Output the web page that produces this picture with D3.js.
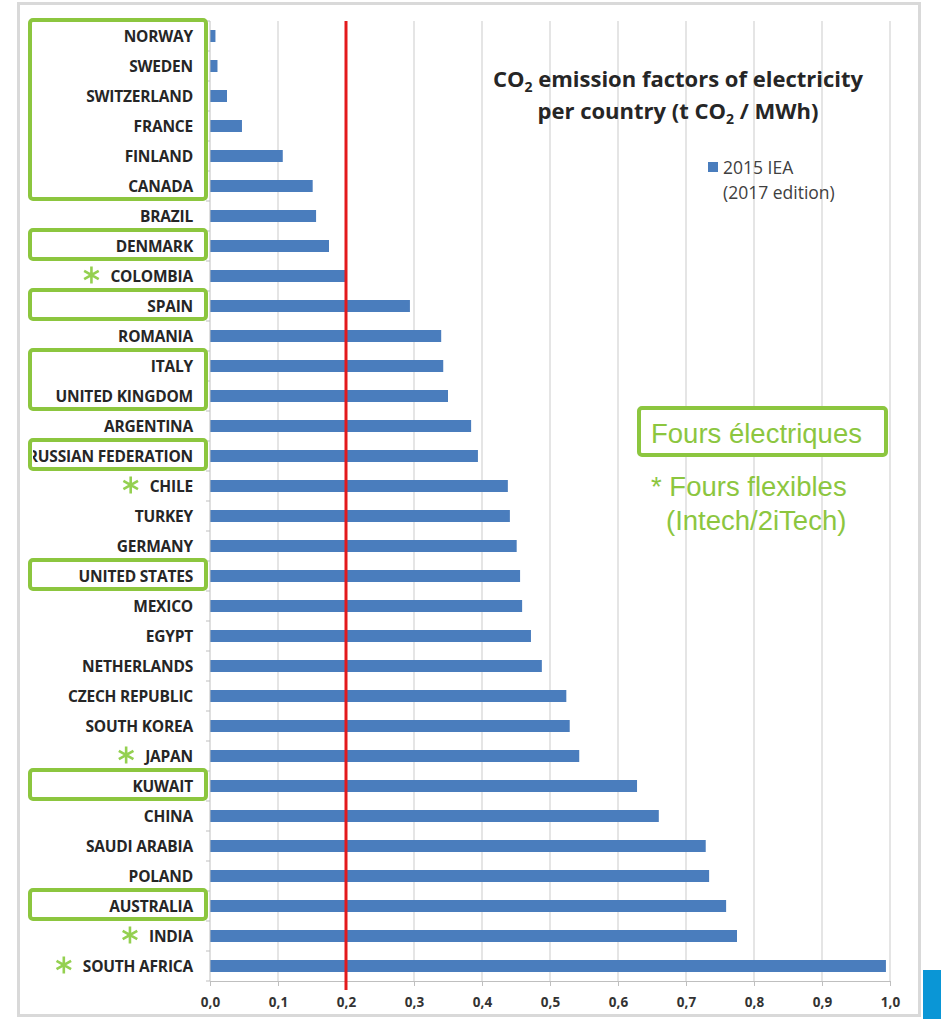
<!DOCTYPE html>
<html>
<head>
<meta charset="utf-8">
<script src="https://cdn.jsdelivr.net/npm/d3@7/dist/d3.min.js"></script>
<style>
  html, body { margin: 0; padding: 0; background: #fff; }
  svg { display: block; }
</style>
</head>
<body>
<svg id="chart" width="941" height="1019"></svg>
<script>
// CO2 emission factors of electricity per country (t CO2 / MWh), 2015 IEA (2017 edition)
const countries = [
  "NORWAY", "SWEDEN", "SWITZERLAND", "FRANCE", "FINLAND", "CANADA", "BRAZIL",
  "DENMARK", "COLOMBIA", "SPAIN", "ROMANIA", "ITALY", "UNITED KINGDOM",
  "ARGENTINA", "RUSSIAN FEDERATION", "CHILE", "TURKEY", "GERMANY",
  "UNITED STATES", "MEXICO", "EGYPT", "NETHERLANDS", "CZECH REPUBLIC",
  "SOUTH KOREA", "JAPAN", "KUWAIT", "CHINA", "SAUDI ARABIA", "POLAND",
  "AUSTRALIA", "INDIA", "SOUTH AFRICA"
];
const factors = [
  0.008, 0.011, 0.025, 0.047, 0.107, 0.151, 0.156,
  0.175, 0.199, 0.294, 0.340, 0.343, 0.350,
  0.384, 0.394, 0.438, 0.441, 0.451,
  0.456, 0.459, 0.472, 0.488, 0.524,
  0.529, 0.543, 0.628, 0.660, 0.729, 0.734,
  0.759, 0.775, 0.994
];
const xTicks = [0, 0.1, 0.2, 0.3, 0.4, 0.5, 0.6, 0.7, 0.8, 0.9, 1.0];
const threshold = 0.2;

// Countries with electric furnaces (framed in green), as runs of consecutive rows
const electricGroups = [
  ["NORWAY", "CANADA"], ["DENMARK", "DENMARK"], ["SPAIN", "SPAIN"],
  ["ITALY", "UNITED KINGDOM"], ["RUSSIAN FEDERATION", "RUSSIAN FEDERATION"],
  ["UNITED STATES", "UNITED STATES"], ["KUWAIT", "KUWAIT"], ["AUSTRALIA", "AUSTRALIA"]
];
// Countries with flexible furnaces (marked with an asterisk)
const flexible = ["COLOMBIA", "CHILE", "JAPAN", "INDIA", "SOUTH AFRICA"];

const legendLines = ["2015 IEA", "(2017 edition)"];
const noteBoxText = "Fours électriques";
const noteLines = ["* Fours flexibles", "(Intech/2iTech)"];

const data = countries.map((c, i) => ({ country: c, value: factors[i] }));

const svg = d3.select("#chart");
const green = "#8cc63f";
const starGreen = "#94d050";
const barColor = "#4a7dbd";

const x = d3.scaleLinear().domain([0, 1]).range([210, 890]);
const y = d3.scaleBand().domain(countries).range([21, 981])
  .paddingInner(0.6).paddingOuter(0.3);
const step = y.step();
const gap = (step - y.bandwidth()) / 2;

// Outer frame
svg.append("rect")
  .attr("x", 18.5).attr("y", 3.5).attr("width", 901).attr("height", 1012)
  .attr("fill", "none").attr("stroke", "#d9d9d9").attr("stroke-width", 3);

// Corner tab bottom right
svg.append("rect")
  .attr("x", 923).attr("y", 970).attr("width", 18).attr("height", 49)
  .attr("fill", "#0a96d6");

// Vertical gridlines
svg.append("g")
  .selectAll("line")
  .data(xTicks.filter(t => t > 0))
  .join("line")
  .attr("x1", d => x(d)).attr("x2", d => x(d))
  .attr("y1", 21).attr("y2", 981)
  .attr("stroke", "#d4d4d4").attr("stroke-width", 1.2);

// Bars
svg.append("g")
  .selectAll("rect")
  .data(data)
  .join("rect")
  .attr("x", x(0))
  .attr("y", d => y(d.country))
  .attr("width", d => x(d.value) - x(0))
  .attr("height", y.bandwidth())
  .attr("fill", barColor);

// Category axis line with ticks between rows
const yAxisG = svg.append("g");
yAxisG.append("line")
  .attr("x1", x(0)).attr("x2", x(0)).attr("y1", 21).attr("y2", 981)
  .attr("stroke", "#bfbfbf").attr("stroke-width", 1);
const boundaries = countries.map(c => y(c) - gap).concat([y(countries[countries.length - 1]) + y.bandwidth() + gap]);
yAxisG.selectAll("line.tk")
  .data(boundaries)
  .join("line")
  .attr("class", "tk")
  .attr("x1", x(0) - 4).attr("x2", x(0))
  .attr("y1", d => d).attr("y2", d => d)
  .attr("stroke", "#bfbfbf");

// Value axis
const xAxis = d3.axisBottom(x)
  .tickValues(xTicks)
  .tickSize(5)
  .tickFormat(d => d3.format(".1f")(d).replace(".", ","));
const xg = svg.append("g")
  .attr("transform", `translate(0,${981})`)
  .call(xAxis);
xg.select(".domain").attr("stroke", "#bfbfbf");
xg.selectAll(".tick line").attr("stroke", "#bfbfbf");
xg.selectAll(".tick text")
  .attr("dy", "1.3em")
  .attr("fill", "#333")
  .style("font-family", "'Open Sans', sans-serif")
  .style("font-weight", 700)
  .style("font-size", "13.5px");

// Threshold line
svg.append("line")
  .attr("x1", x(threshold)).attr("x2", x(threshold))
  .attr("y1", 21).attr("y2", 990)
  .attr("stroke", "#e31a1c").attr("stroke-width", 3);

// Category labels
svg.append("clipPath").attr("id", "labelClip")
  .append("rect").attr("x", 33).attr("y", 0).attr("width", 180).attr("height", 1019);
const labels = svg.append("g").attr("clip-path", "url(#labelClip)")
  .selectAll("text")
  .data(data)
  .join("text")
  .attr("x", 193)
  .attr("y", d => y(d.country) + y.bandwidth() / 2)
  .attr("dy", "0.36em")
  .attr("text-anchor", "end")
  .attr("fill", "#262626")
  .style("font-family", "'Open Sans', sans-serif")
  .style("font-weight", 700)
  .style("font-size", "15.5px")
  .style("letter-spacing", "-0.2px")
  .text(d => d.country);

// Asterisks for flexible furnaces
const labelWidth = {};
labels.each(function (d) { labelWidth[d.country] = this.getComputedTextLength(); });
const star = d3.symbol(d3.symbolAsterisk, 200);
svg.append("g")
  .selectAll("path")
  .data(flexible)
  .join("path")
  .attr("transform", d => `translate(${193 - labelWidth[d] - 19},${y(d) + y.bandwidth() / 2 - 1})`)
  .attr("d", star)
  .attr("fill", "none")
  .attr("stroke", starGreen)
  .attr("stroke-width", 2.6);

// Green frames around electric-furnace countries
svg.append("g")
  .selectAll("rect")
  .data(electricGroups)
  .join("rect")
  .attr("x", 30)
  .attr("y", d => y(d[0]) + y.bandwidth() / 2 - 16)
  .attr("width", 176)
  .attr("height", d => y(d[1]) - y(d[0]) + 29)
  .attr("rx", 3)
  .attr("fill", "none")
  .attr("stroke", green)
  .attr("stroke-width", 4);

// Title
const title = svg.append("text")
  .attr("x", 678).attr("text-anchor", "middle")
  .attr("fill", "#262626")
  .style("font-family", "'Open Sans', sans-serif")
  .style("font-weight", 700)
  .style("font-size", "22px");
const t1 = title.append("tspan").attr("x", 678).attr("y", 87);
t1.append("tspan").text("CO");
t1.append("tspan").attr("dy", 5).style("font-size", "14px").text("2");
t1.append("tspan").attr("dy", -5).text(" emission factors of electricity");
const t2 = title.append("tspan").attr("x", 678).attr("y", 119);
t2.append("tspan").text("per country (t CO");
t2.append("tspan").attr("dy", 5).style("font-size", "14px").text("2");
t2.append("tspan").attr("dy", -5).text(" / MWh)");

// Legend
svg.append("rect")
  .attr("x", 708).attr("y", 162).attr("width", 10).attr("height", 10)
  .attr("fill", barColor);
svg.append("g")
  .selectAll("text")
  .data(legendLines)
  .join("text")
  .attr("x", 723)
  .attr("y", (d, i) => 174 + i * 25)
  .attr("fill", "#404040")
  .style("font-family", "'Open Sans', sans-serif")
  .style("font-size", "17.5px")
  .text(d => d);

// Furnace note
svg.append("rect")
  .attr("x", 639).attr("y", 408).attr("width", 247).attr("height", 47)
  .attr("rx", 3)
  .attr("fill", "#fff").attr("stroke", green).attr("stroke-width", 4);
svg.append("text")
  .attr("x", 651).attr("y", 443)
  .attr("fill", green)
  .style("font-family", "'Liberation Sans', Arial, sans-serif")
  .style("font-size", "27.5px")
  .text(noteBoxText);
svg.append("g")
  .selectAll("text")
  .data(noteLines)
  .join("text")
  .attr("x", (d, i) => i === 0 ? 651 : 666)
  .attr("y", (d, i) => 496 + i * 34)
  .attr("fill", green)
  .style("font-family", "'Liberation Sans', Arial, sans-serif")
  .style("font-size", "27.5px")
  .text(d => d);
</script>
</body>
</html>
